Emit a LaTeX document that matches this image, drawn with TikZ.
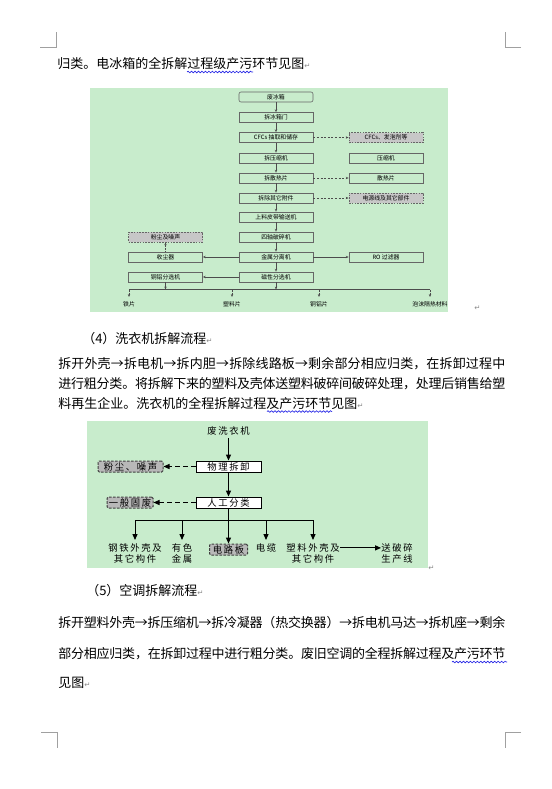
\documentclass[tikz,border=0pt]{standalone}
\usepackage{fontspec}
\setmainfont{Noto Sans CJK SC}
\newfontfamily\cjksp[LetterSpace=18]{Noto Sans CJK SC}
\newfontfamily\dejavu{DejaVu Sans}
\usepackage{tikz}
\usetikzlibrary{arrows.meta,positioning,decorations.pathmorphing}
\XeTeXlinebreaklocale "zh"
\XeTeXlinebreakskip=0pt plus 1.5pt minus 0.3pt
\definecolor{cBg}{RGB}{200,236,204}
\definecolor{cMark}{RGB}{160,160,160}
\definecolor{cWave}{RGB}{40,40,230}
\newcommand{\pmark}{{\dejavu\fontsize{5.5}{6}\selectfont\textcolor{black!45}{↵}}}
\newcommand{\jl}[1]{{\parfillskip=0pt\relax#1\par}}

\begin{document}
\begin{tikzpicture}[x=0.75pt,y=-0.75pt,
  body/.style={anchor=base west, inner sep=0pt, font=\fontsize{9.75}{12}\selectfont},
  jline/.style={body, text width=335.25pt, align=justify},
  wave/.style={draw=cWave, line width=0.5pt, decorate, decoration={snake, amplitude=0.6pt, segment length=2.6pt}},
  crop/.style={draw=cMark, line width=0.75pt},
  fbox/.style={draw=black!60, line width=0.45pt, minimum width=55.5pt, minimum height=7.5pt, inner sep=0pt, font=\fontsize{4.4}{5}\selectfont},
  gbox/.style={fbox, fill=black!22, dash pattern=on 1.2pt off 0.9pt, line width=0.6pt},
  farr/.style={draw=black!70, line width=0.45pt, -{Stealth[length=2.2pt,width=1.8pt]}},
  fdash/.style={farr, dash pattern=on 1.5pt off 1.2pt},
  fdot/.style={farr, dash pattern=on 0.6pt off 0.6pt},
  fout/.style={inner xsep=0pt, inner ysep=3pt, font=\fontsize{4.4}{5}\selectfont},
  wbox/.style={draw, line width=0.75pt, fill=white, minimum width=48.75pt, minimum height=8.25pt, inner sep=0pt, font=\cjksp\fontsize{7}{8}\selectfont},
  wgbox/.style={wbox, fill=black!28, draw=black!75, dash pattern=on 2pt off 1pt, rounded corners=1pt},
  warr/.style={line width=0.75pt, -{Triangle[length=4.5pt,width=3.8pt]}},
  wdash/.style={warr, dash pattern=on 3.5pt off 2.5pt},
  wlbl/.style={inner xsep=0pt, inner ysep=2.5pt, align=center, font=\cjksp\fontsize{7}{8.5}\selectfont}]
\fill[white] (0,0) rectangle (552,789);
\useasboundingbox (0,0) rectangle (552,789);
\draw[crop] (40,47.5) -- (56.5,47.5) -- (56.5,32);
\draw[crop] (521,47.5) -- (505.5,47.5) -- (505.5,32);
\draw[crop] (41,732) -- (57,732) -- (57,748);
\draw[crop] (521,732) -- (505,732) -- (505,748);

\node[body] (t1) at (57,68.5) {归类。电冰箱的全拆解过程级产污环节见图\pmark};
\draw[wave] (187,72) -- (253,72);

\begin{scope}
  \fill[cBg] (90,88) rectangle (448,312);
  \node[fbox, rounded corners=1.5pt] (c1) at (276,97) {废冰箱};
  \foreach \n/\y/\t in {c2/117.5/拆冰箱门, c3/137.5/CFCs 抽取和储存, c4/158/拆压缩机, c5/178/拆散热片, c6/198/拆除其它附件, c7/217/上料皮带输送机, c8/237/四轴破碎机, c9/257/金属分离机, c10/277/磁性分选机}
    \node[fbox] (\n) at (276,\y) {\t};
  \node[gbox] (r3) at (386,137.5) {CFCs、发泡剂等};
  \node[fbox] (r4) at (386,158) {压缩机};
  \node[fbox] (r5) at (386,178) {散热片};
  \node[gbox] (r6) at (386,198) {电源线及其它部件};
  \node[fbox] (r9) at (386,257) {RO 过滤器};
  \node[gbox] (l8) at (165.5,237) {粉尘及噪声};
  \node[fbox] (l9) at (165.5,257) {收尘器};
  \node[fbox] (l10) at (165.5,277) {铜铝分选机};
  \foreach \a/\b in {c1/c2,c2/c3,c3/c4,c4/c5,c5/c6,c6/c7,c7/c8,c8/c9,c9/c10}
    \draw[farr] (\a) -- (\b);
  \foreach \a/\b in {c3/r3,c5/r5,c6/r6}
    \draw[fdash] (\a) -- (\b);
  \draw[farr] (c9) -- (l9);
  \draw[farr] (c9) -- (r9);
  \draw[farr] (c10) -- (l10);
  \draw[fdot] (l9) -- (l8);
  \coordinate (bL) at (129,289.5);
  \coordinate (bR) at (430,289.5);
  \coordinate (bC) at (276,289.5);
  \coordinate (bM) at (165.5,289.5);
  \draw[draw=black!70, line width=0.45pt] (bL) -- (bR);
  \draw[farr] (c10) -- (bC);
  \draw[farr] (l10) -- (bM);
  \foreach \n/\x/\t in {o1/129/铁片, o2/232/塑料片, o3/319/铜铝片, o4/430/泡沫隔热材料}{
    \coordinate (b\n) at (\x,289.5);
    \node[fout, anchor=north] (\n) at (\x,297) {\t};
    \draw[fdot] (b\n) -- (\n);}
\end{scope}
\node[inner sep=0pt, anchor=base west] (pm1) at (474,310) {\pmark};

\node[body] (h4) at (82,343) {（4）洗衣机拆解流程\pmark};
\node[jline] (p4a) at (58,368) {\jl{拆开外壳→拆电机→拆内胆→拆除线路板→剩余部分相应归类，在拆卸过程中}};
\node[jline] (p4b) at (58,388) {\jl{进行粗分类。将拆解下来的塑料及壳体送塑料破碎间破碎处理，处理后销售给塑}};
\node[body] (p4c) at (58,408) {料再生企业。洗衣机的全程拆解过程及产污环节见图\pmark};
\draw[wave] (267,411.5) -- (332,411.5);

\begin{scope}
  \fill[cBg] (87,421) rectangle (428,568);
  \node[inner sep=2pt, font=\cjksp\fontsize{7}{8}\selectfont] (src) at (228.5,431) {废洗衣机};
  \node[wbox] (dis) at (228.5,466.5) {物理拆卸};
  \node[wgbox] (dust) at (130.5,466.5) {粉尘、噪声};
  \node[wbox] (sort) at (228.5,502.5) {人工分类};
  \node[wgbox, minimum width=34.5pt] (waste) at (130,502.5) {一般固废};
  \node[wgbox, minimum width=28.5pt] (pcb) at (228.5,549.5) {电路板};
  \draw[warr] (src) -- (dis);
  \draw[warr] (dis) -- (sort);
  \draw[wdash] (dis) -- (dust);
  \draw[wdash] (sort) -- (waste);
  \draw[warr] (sort) -- (pcb);
  \coordinate (w1) at (135,520);
  \coordinate (w5) at (313,520);
  \draw[line width=0.75pt] (w1) -- (w5);
  \foreach \n/\x/\t in {steel/135/钢铁外壳及\\其它构件, metal/182/有色\\金属, cable/266/电缆, plastic/313/塑料外壳及\\其它构件}{
    \coordinate (w\n) at (\x,520);
    \node[wlbl, anchor=north] (\n) at (\x,540) {\t};
    \draw[warr] (w\n) -- (\n);}
  \node[wlbl, anchor=north] (send) at (397,540) {送破碎\\生产线};
  \draw[warr] (plastic.east |- cable) -- (send.west |- cable);
\end{scope}
\node[inner sep=0pt, anchor=base west] (pm2) at (428,570) {\pmark};

\node[body] (h5) at (86,595) {（5）空调拆解流程\pmark};
\node[jline] (p5a) at (58,627) {\jl{拆开塑料外壳→拆压缩机→拆冷凝器（热交换器）→拆电机马达→拆机座→剩余}};
\node[jline] (p5b) at (58,658) {\jl{部分相应归类，在拆卸过程中进行粗分类。废旧空调的全程拆解过程及产污环节}};
\node[body] (p5c) at (58,687) {见图\pmark};
\draw[wave] (452,662) -- (507,662);
\end{tikzpicture}
\end{document}
